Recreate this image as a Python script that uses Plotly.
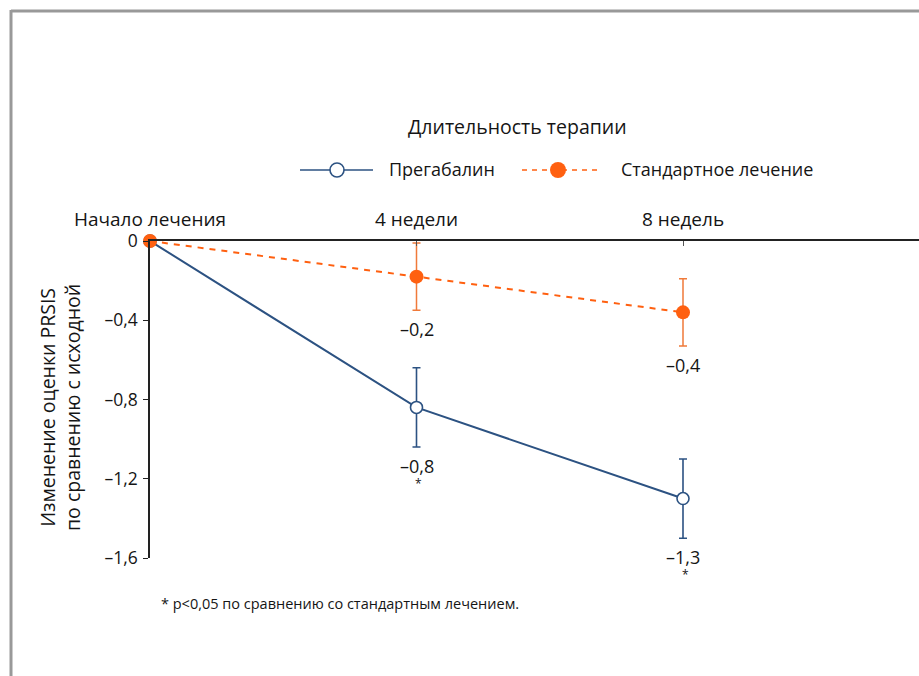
import plotly.graph_objects as go

# ---- data ----
timepoints = ["Начало лечения", "4 недели", "8 недель"]
x_pos = [0, 1, 2]

pregabalin = [0.0, -0.84, -1.30]
pregabalin_err = [None, 0.20, 0.20]
pregabalin_sig = [False, True, True]

standard = [0.0, -0.18, -0.36]
standard_err = [None, 0.17, 0.17]

y_ticks = [0, -0.4, -0.8, -1.2, -1.6]

series_names = ["Прегабалин", "Стандартное лечение"]
legend_title = "Длительность терапии"
y_title = ["Изменение оценки PRSIS", "по сравнению с исходной"]
footnote = "* p<0,05 по сравнению со стандартным лечением."

# ---- styling ----
W, H = 919, 676
L, R, T, B = 150, 0, 241, 118
FONT = "Open Sans"
TXT = "#151515"
BLUE = "#2c5282"
ORANGE = "#ff6010"
ORANGE_ERR = "#f07a3a"


def fmt(v):
    if v == 0:
        return "0"
    s = f"{abs(v):.1f}".replace(".", ",")
    return ("–" if v < 0 else "") + s


def px(x):
    return (x - L) / (W - L - R)


def py(y):
    return (H - B - y) / (H - T - B)


fig = go.Figure()

fig.add_trace(go.Scatter(
    x=x_pos, y=pregabalin, name=series_names[0], mode="lines+markers",
    line=dict(color=BLUE, width=2),
    marker=dict(symbol="circle", size=12, color="white", line=dict(color=BLUE, width=1.6)),
    error_y=dict(type="data", array=pregabalin_err, visible=True, color=BLUE,
                 thickness=1.6, width=4),
    cliponaxis=False, showlegend=False,
))
fig.add_trace(go.Scatter(
    x=x_pos, y=standard, name=series_names[1], mode="lines+markers",
    line=dict(color=ORANGE, width=2, dash="6px,6px"),
    marker=dict(symbol="circle", size=14, color=ORANGE),
    error_y=dict(type="data", array=standard_err, visible=True, color=ORANGE_ERR,
                 thickness=1.5, width=4),
    cliponaxis=False, showlegend=False,
))

annotations = []
# value labels beneath the lower error whisker
for vals, errs, sig in ((pregabalin, pregabalin_err, pregabalin_sig),
                        (standard, standard_err, [False] * len(standard))):
    for xi, v, e, s in zip(x_pos, vals, errs, sig):
        if e is None:
            continue
        annotations.append(dict(
            x=xi, y=v - e, xref="x", yref="y", text=fmt(v), showarrow=False,
            xanchor="center", yanchor="top", yshift=-5,
            font=dict(family=FONT, size=18, color=TXT)))
        if s:
            annotations.append(dict(
                x=xi, y=v - e, xref="x", yref="y", text="*", showarrow=False,
                xanchor="center", yanchor="top", yshift=-26, xshift=2,
                font=dict(family=FONT, size=12, color=TXT)))

# y-axis title (two rotated lines)
annotations.append(dict(
    x=px(60), y=py(408), xref="paper", yref="paper",
    text="<br>".join(y_title), textangle=-90, showarrow=False,
    xanchor="center", yanchor="middle",
    font=dict(family=FONT, size=19.5, color=TXT), align="center"))

# legend block
annotations.append(dict(
    x=px(517), y=py(126), xref="paper", yref="paper", text=legend_title,
    showarrow=False, xanchor="center", yanchor="middle",
    font=dict(family=FONT, size=19.5, color=TXT)))
annotations.append(dict(
    x=px(387), y=py(169), xref="paper", yref="paper", text=series_names[0],
    showarrow=False, xanchor="left", yanchor="middle",
    font=dict(family=FONT, size=18, color=TXT)))
annotations.append(dict(
    x=px(619), y=py(169), xref="paper", yref="paper", text=series_names[1],
    showarrow=False, xanchor="left", yanchor="middle",
    font=dict(family=FONT, size=18, color=TXT)))

# footnote
annotations.append(dict(
    x=px(159), y=py(603), xref="paper", yref="paper", text=footnote,
    showarrow=False, xanchor="left", yanchor="middle",
    font=dict(family=FONT, size=14.5, color=TXT)))

shapes = [
    # frame
    dict(type="line", xref="paper", yref="paper", x0=px(11), x1=px(W), y0=py(11), y1=py(11),
         line=dict(color="#999999", width=3)),
    dict(type="line", xref="paper", yref="paper", x0=px(11), x1=px(11), y0=py(10), y1=py(H),
         line=dict(color="#999999", width=3)),
    # legend samples
    dict(type="line", xref="paper", yref="paper", x0=px(300), x1=px(373), y0=py(170), y1=py(170),
         line=dict(color=BLUE, width=1.6)),
    dict(type="circle", xref="paper", yref="paper", x0=px(330), x1=px(344), y0=py(163), y1=py(177),
         fillcolor="white", line=dict(color=BLUE, width=1.6)),
    dict(type="line", xref="paper", yref="paper", x0=px(522), x1=px(597), y0=py(170), y1=py(170),
         line=dict(color=ORANGE, width=1.6, dash="5px,5px")),
    dict(type="circle", xref="paper", yref="paper", x0=px(550), x1=px(566), y0=py(162), y1=py(178),
         fillcolor=ORANGE, line=dict(color=ORANGE, width=0)),
]

fig.update_layout(
    width=W, height=H, margin=dict(l=L, r=R, t=T, b=B),
    paper_bgcolor="white", plot_bgcolor="white",
    font=dict(family=FONT, color=TXT),
    annotations=annotations, shapes=shapes,
    xaxis=dict(
        side="top", range=[0, (W - L - R) / 266.5], tickvals=x_pos, ticktext=timepoints,
        showgrid=False, zeroline=False, showline=True, linecolor="#222222", linewidth=1.5,
        ticks="inside", ticklen=5, tickcolor="#555555", ticklabelstandoff=6,
        tickfont=dict(family=FONT, size=19, color=TXT),
    ),
    yaxis=dict(
        range=[-1.6, 0], tickvals=y_ticks, ticktext=[fmt(v) for v in y_ticks],
        showgrid=False, zeroline=False, showline=True, linecolor="#222222", linewidth=1.5,
        ticks="outside", ticklen=5, tickcolor="#222222", ticklabelstandoff=2,
        tickfont=dict(family=FONT, size=17.5, color=TXT),
    ),
)

fig.write_html("out.html")
